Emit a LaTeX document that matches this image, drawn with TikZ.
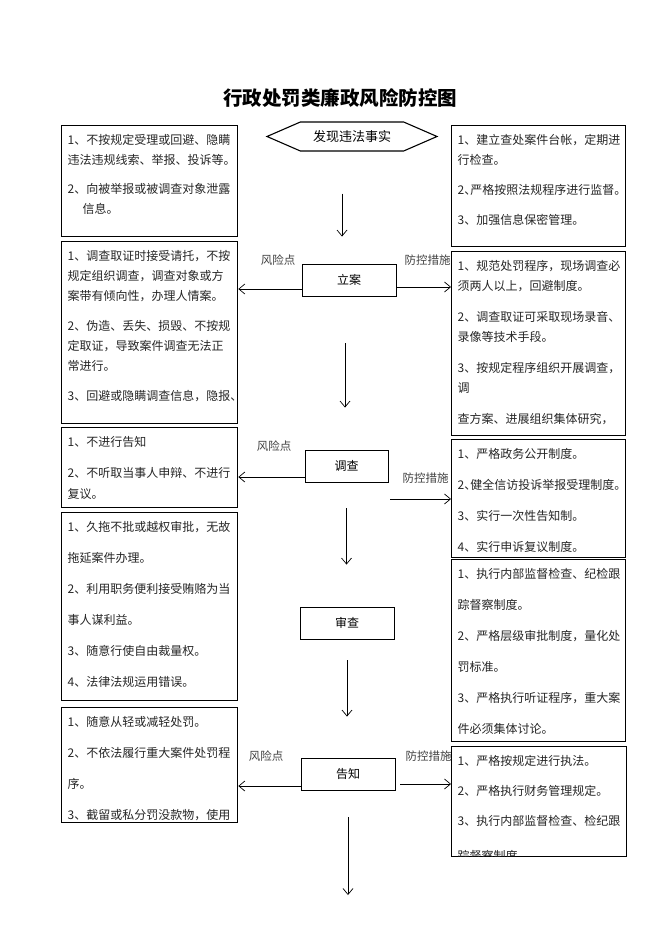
\documentclass[tikz,border=0pt]{standalone}
\usepackage{fontspec}
\newfontfamily\cjk{Noto Sans CJK SC}
\usetikzlibrary{shapes.symbols, arrows.meta, positioning}

\begin{document}
\begin{tikzpicture}[x=1pt, y=-1pt, font=\cjk, >={Straight Barb[length=6pt,width=10pt]},
    risk/.style={draw, line width=1.3pt, fill=white, anchor=north west, inner xsep=6pt, inner ysep=9pt, text=black!85},
    stage/.style={draw, line width=0.9pt, minimum width=94pt, minimum height=32pt, font=\cjk\fontsize{12}{14}\selectfont},
    tag/.style={inner sep=0pt, font=\cjk\fontsize{11.5}{13}\selectfont, text=black!75},
    flow/.style={->, line width=0.7pt}
]
    \useasboundingbox (0,0) rectangle (662,936);

    \node (title) at (340,98) {\fontsize{19.5}{22}\selectfont\bfseries 行政处罚类廉政风险防控图};
    \node (found) [draw, line width=1.1pt, signal, signal to=west and east, signal pointer angle=47,
        minimum width=170pt, minimum height=29pt, font=\cjk\fontsize{13}{15}\selectfont] at (352,136.5) {发现违法事实};

    % process steps
    \node (lian) [stage] at (349,280) {立案};
    \node (diaocha) [stage, minimum width=83pt] at (346.5,466) {调查};
    \node (shencha) [stage] at (347,623) {审查};
    \node (gaozhi) [stage] at (348,774) {告知};
    \coordinate (finish) at (348,895);

    \node (tagA) [tag, above left=-2pt and 6pt of lian.north west] {风险点};
    \node (tagB) [tag, above right=-2pt and 8pt of lian.north east] {防控措施};
    \node (tagC) [tag, above left=-2pt and 13pt of diaocha.north west] {风险点};
    \node (tagD) [tag, above right=-1pt and 14pt of diaocha.south east] {防控措施};
    \node (tagE) [tag, above left=-4pt and 17pt of gaozhi.north west] {风险点};
    \node (tagF) [tag, above right=-4pt and 10pt of gaozhi.north east] {防控措施};

    % risk points (left)
    \node (risk1) [risk] at (61,125) {\parbox[t][93pt][t]{164pt}{\fontsize{12}{19.5}\selectfont\raggedright
        1、不按规定受理或回避、隐瞒\\
        违法违规线索、举报、投诉等。\\[10pt]
        2、向被举报或被调查对象泄露\\
        \hspace*{15pt}信息。}};
    \node (risk2) [risk] at (61,241) {\parbox[t][164pt][t]{164pt}{\fontsize{12}{20}\selectfont\raggedright
        1、调查取证时接受请托，不按\\
        规定组织调查，调查对象或方\\
        案带有倾向性，办理人情案。\\[10pt]
        2、伪造、丢失、损毁、不按规\\
        定取证，导致案件调查无法正\\
        常进行。\\[10pt]
        3、回避或隐瞒调查信息，隐报、}};
    \node (risk3) [risk] at (61,427) {\parbox[t][62pt][t]{164pt}{\fontsize{12}{21}\selectfont\raggedright
        1、不进行告知\\[10pt]
        2、不听取当事人申辩、不进行\\
        复议。}};
    \node (risk4) [risk] at (61,512) {\parbox[t][170pt][t]{164pt}{\fontsize{12}{31}\selectfont\raggedright
        1、久拖不批或越权审批，无故\\
        拖延案件办理。\\
        2、利用职务便利接受贿赂为当\\
        事人谋利益。\\
        3、随意行使自由裁量权。\\
        4、法律法规运用错误。}};
    \node (risk5) [risk] at (61,707) {\parbox[t][97pt][t]{164pt}{\fontsize{12}{31}\selectfont\raggedright
        1、随意从轻或减轻处罚。\\
        2、不依法履行重大案件处罚程\\
        序。\\
        3、截留或私分罚没款物，使用}};

    % measures (right)
    \node (guard1) [risk] at (451,125) {\parbox[t][103pt][t]{162pt}{\fontsize{12}{20}\selectfont\raggedright
        1、建立查处案件台帐，定期进\\
        行检查。\\[10pt]
        2、\kern-6pt严格按照法规程序进行监督。\\[10pt]
        3、加强信息保密管理。}};
    \node (guard2) [risk] at (451,251) {\parbox[t][166pt][t]{162pt}{\fontsize{12}{20}\selectfont\raggedright
        1、规范处罚程序，现场调查必\\
        须两人以上，回避制度。\\[11pt]
        2、调查取证可采取现场录音、\\
        录像等技术手段。\\[11pt]
        3、按规定程序组织开展调查，\\
        调\\[11pt]
        查方案、进展组织集体研究，}};
    \node (guard3) [risk] at (451,439) {\parbox[t][100pt][t]{162pt}{\fontsize{12}{31}\selectfont\raggedright
        1、严格政务公开制度。\\
        2、\kern-6pt健全信访投诉举报受理制度。\\
        3、实行一次性告知制。\\
        4、实行申诉复议制度。}};
    \node (guard4) [risk] at (451,559) {\parbox[t][164pt][t]{162pt}{\fontsize{12}{31}\selectfont\raggedright
        1、执行内部监督检查、纪检跟\\
        踪督察制度。\\
        2、严格层级审批制度，量化处\\
        罚标准。\\
        3、严格执行听证程序，重大案\\
        件必须集体讨论。}};
    \begin{scope}
        \clip (449,744) rectangle (628,856.8);
        \node (guard5) [risk] at (451,746) {\parbox[t][92pt][t]{163pt}{\fontsize{12}{30}\selectfont\raggedright
            1、严格按规定进行执法。\\
            2、严格执行财务管理规定。\\
            3、执行内部监督检查、检纪跟\\[5pt]
            踪督察制度}};
    \end{scope}

    % main flow
    \draw[flow, shorten <=42pt, shorten >=27pt] ([xshift=-10pt]found.south) -- ([xshift=-10pt]found.south |- lian.north);
    \draw[flow, shorten <=47pt, shorten >=42pt] ([xshift=-4pt]lian.south) -- ([xshift=-4pt]lian.south |- diaocha.north);
    \draw[flow, shorten <=26pt, shorten >=42pt] (diaocha.south) -- (diaocha.south |- shencha.north);
    \draw[flow, shorten <=21pt, shorten >=41pt] (shencha.south) -- (shencha.south |- gaozhi.north);
    \draw[flow, shorten <=27pt] (gaozhi.south) -- (finish);

    % side arrows
    \draw[flow] ([yshift=-9pt]lian.west) -- ([yshift=-9pt]lian.west -| risk2.east);
    \draw[flow] ([yshift=-7pt]lian.east) -- ([yshift=-7pt]lian.east -| guard2.west);
    \draw[flow] ([yshift=-11pt]diaocha.west) -- ([yshift=-11pt]diaocha.west -| risk3.east);
    \draw[flow, shorten <=2pt] ([yshift=-33pt]diaocha.east) -- ([yshift=-33pt]diaocha.east -| guard3.west);
    \draw[flow] ([yshift=-12pt]gaozhi.west) -- ([yshift=-12pt]gaozhi.west -| risk5.east);
    \draw[flow, shorten <=5pt] ([yshift=-10pt]gaozhi.east) -- ([yshift=-10pt]gaozhi.east -| guard5.west);
\end{tikzpicture}
\end{document}
